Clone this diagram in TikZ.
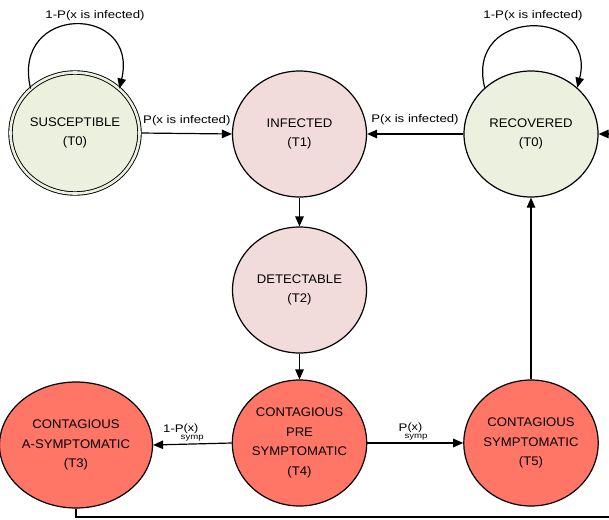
\documentclass[tikz,border=0pt]{standalone}
\usepackage{fontspec}
\setmainfont{Liberation Sans}
\newfontfamily\nodefont[FakeStretch=1.05]{Liberation Sans}
\newfontfamily\lblfont[FakeStretch=1.2]{Liberation Sans}
\usetikzlibrary{shapes.geometric,arrows.meta}
\definecolor{sgreen}{HTML}{EBF1DE}
\definecolor{spink}{HTML}{F2DCDB}
\definecolor{sred}{HTML}{FF7566}
\newcommand{\subsym}[1]{#1\kern-3pt\rlap{\raisebox{-7pt}{\fontsize{8}{9}\selectfont symp}}\kern3pt\raisebox{0.8pt}{\fontsize{10.5}{11}\selectfont(x)}}
\begin{document}
\begin{tikzpicture}[x=1pt,y=-1pt,
  state/.style={ellipse, draw=black, line width=1.2pt, minimum width=134pt, minimum height=126pt,
    inner sep=0pt, align=center, font=\nodefont\fontsize{12.5}{19.5}\selectfont},
  arr/.style={line width=1.2pt, -{Triangle[length=10pt,width=8.5pt]}},
  lbl/.style={font=\lblfont\fontsize{11}{13}\selectfont, inner sep=0pt}]
\clip (0,0) rectangle (609,519);
\fill[white] (0,0) rectangle (609,519);

% nodes
\node[state, fill=sgreen, double=sgreen, double distance=2.6pt, line width=0.9pt,
      minimum width=129pt, minimum height=121pt] (S) at (75,133) {SUSCEPTIBLE\\(T0)};
\node[state, fill=spink]  (I)  at (299.5,134) {INFECTED\\(T1)};
\node[state, fill=sgreen] (R)  at (531,134)   {RECOVERED\\(T0)};
\node[state, fill=spink]  (D)  at (299.5,290) {DETECTABLE\\(T2)};
\node[state, fill=sred]   (A)  at (76,445)    {CONTAGIOUS\\A-SYMPTOMATIC\\(T3)};
\node[state, fill=sred]   (P)  at (299.5,443) {CONTAGIOUS\\PRE\\SYMPTOMATIC\\(T4)};
\node[state, fill=sred]   (Sy) at (531,443)   {CONTAGIOUS\\SYMPTOMATIC\\(T5)};

% self loops
\draw[arr] (S.135) .. controls +(-20,-85) and +(20,-85) .. (S.45);
\draw[arr] (R.135) .. controls +(-20,-81) and +(20,-81) .. (R.45);
\node[lbl] (ls) at (95,16)  {1-P(x is infected)};
\node[lbl] (lr) at (533,16) {1-P(x is infected)};

% connectors
\draw[arr, shorten <=1.5pt] (S.east) -- (I.west);
\node[lbl, anchor=west] (lsi) at (143,121) {P(x is infected)};
\draw[arr] (R.west) -- (I.east);
\node[lbl] (lri) at (415,120) {P(x is infected)};
\draw[arr] (I.south) -- (D.north);
\draw[arr] (D.south) -- (P.north);
\draw[arr] (P.west) -- (A.east);
\node[lbl, anchor=base west] (lpa) at (163,432) {\subsym{1-P}};
\draw[arr] (P.east) -- (Sy.west);
\node[lbl, anchor=base west] (lps) at (398.5,431) {\subsym{P}};
\draw[arr] (Sy.north) -- (R.south);
\coordinate (br) at (625,517);
\draw[arr] (A.south) |- (br) |- (R.east);
\end{tikzpicture}
\end{document}
